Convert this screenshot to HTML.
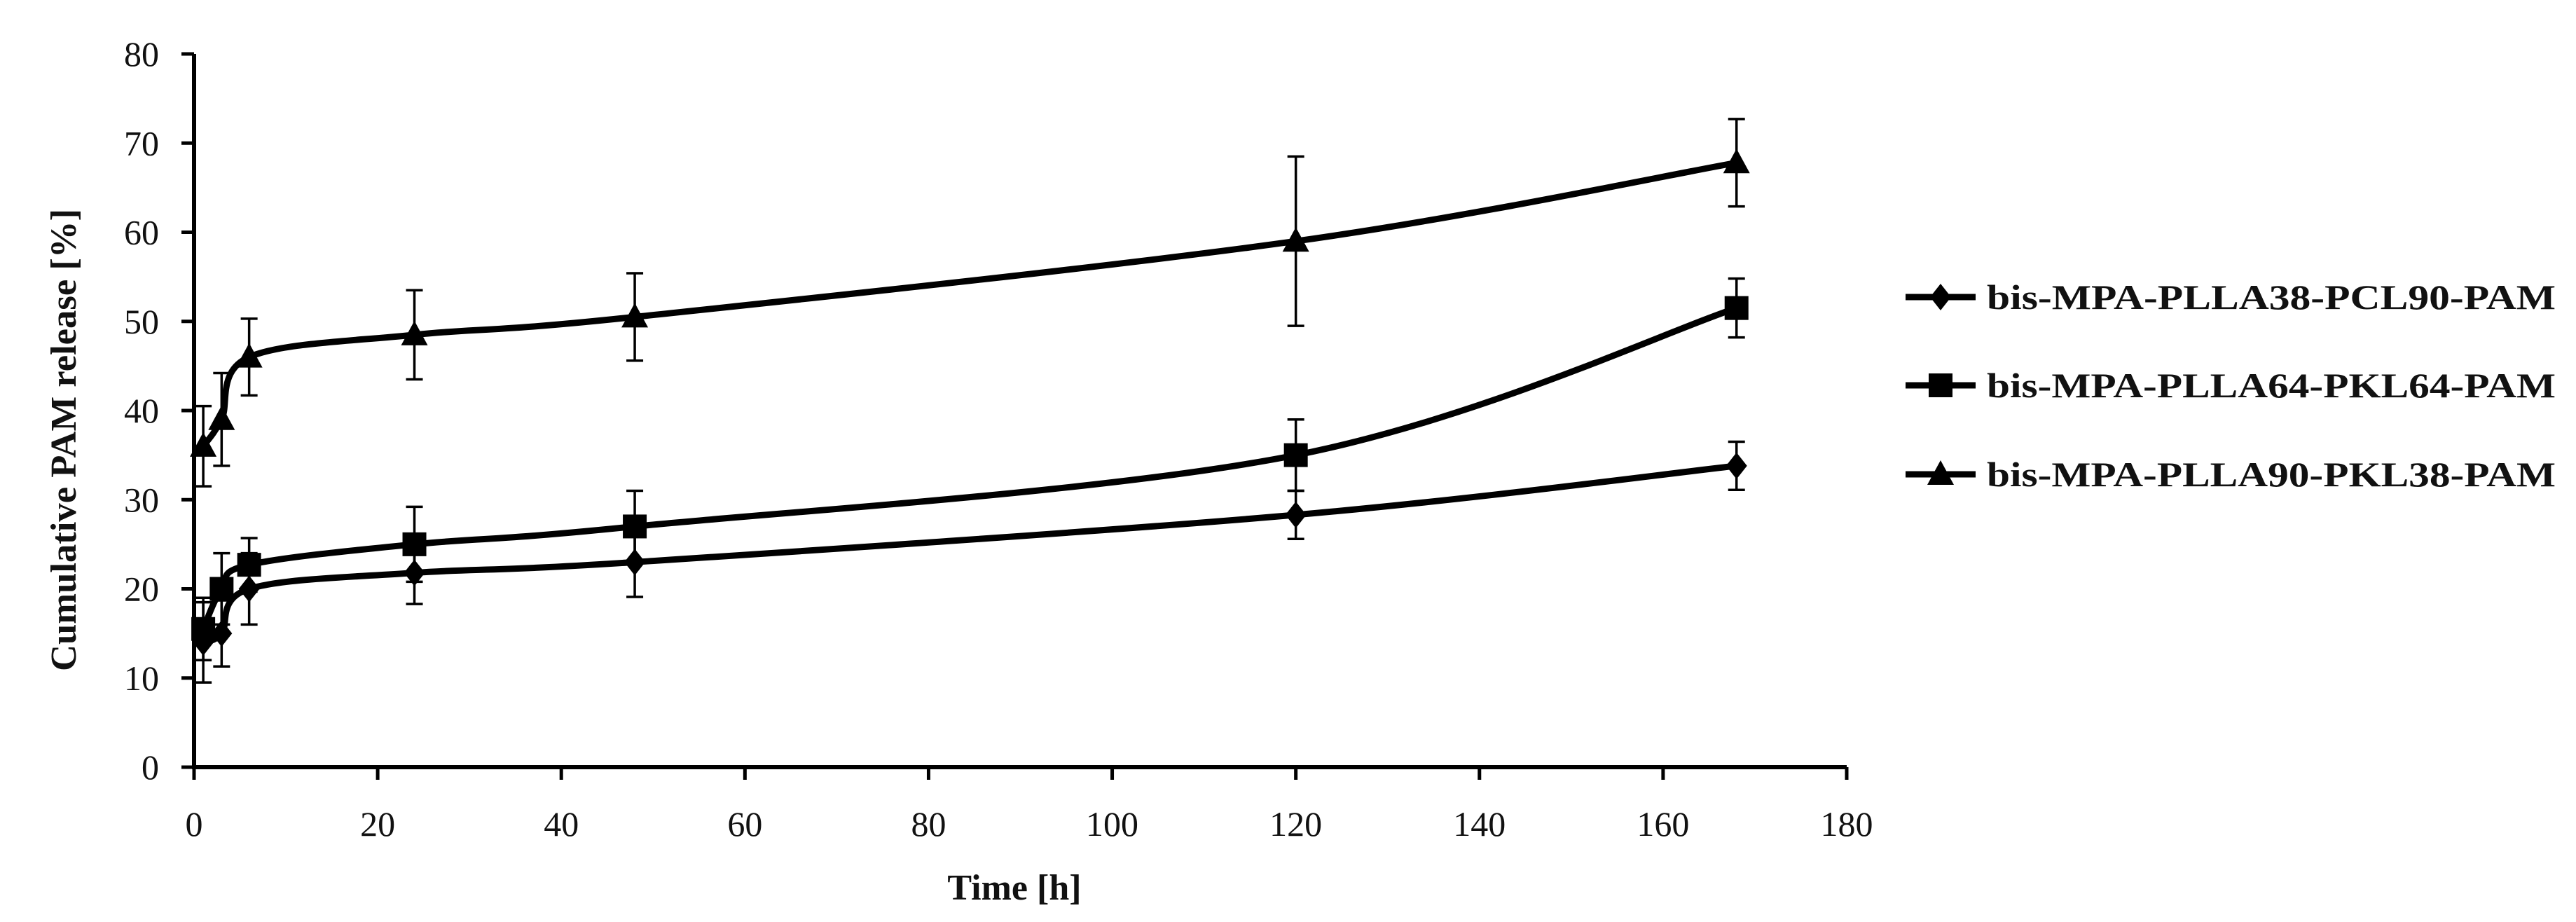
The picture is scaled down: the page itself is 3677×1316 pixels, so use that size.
<!DOCTYPE html>
<html><head><meta charset="utf-8"><style>
html,body{margin:0;padding:0;background:#fff}
svg{display:block}
text{font-family:"Liberation Serif",serif;fill:#111}
</style></head><body>
<svg id="chart" width="3677" height="1316" viewBox="0 0 3677 1316" xmlns="http://www.w3.org/2000/svg">
<g id="axes"></g>
<g id="series"></g>
<g id="legend"></g>
<text transform="translate(108,628) rotate(-90)" text-anchor="middle" font-size="52" font-weight="bold" textLength="660" lengthAdjust="spacingAndGlyphs">Cumulative PAM release [%]</text>
<text x="1448" y="1284" text-anchor="middle" font-size="52" font-weight="bold">Time [h]</text>
</svg>
<script>
const times = [1, 3, 6, 24, 48, 120, 168];
const seriesNames = ["bis-MPA-PLLA38-PCL90-PAM","bis-MPA-PLLA64-PKL64-PAM","bis-MPA-PLLA90-PKL38-PAM"];
const diamondVals = [14, 15, 20, 21.8, 23, 28.3, 33.8];
const diamondErr = [4.5, 3.7, 4, 3.5, 3.9, 2.7, 2.7];
const squareVals = [15.5, 20, 22.7, 25, 27, 35, 51.5];
const squareErr = [3.5, 4, 3, 4.2, 4, 4, 3.3];
const triangleVals = [36, 39, 46, 48.5, 50.5, 59, 67.8];
const triangleErr = [4.5, 5.2, 4.3, 5, 4.9, 9.5, 4.9];
const xTicks = [0,20,40,60,80,100,120,140,160,180];
const yTicks = [0,10,20,30,40,50,60,70,80];

const NS="http://www.w3.org/2000/svg";
const X0=277, X1=2636, Y0=1095, Y1=77;
const xs=v=>X0+(v-0)/180*(X1-X0);
const ys=v=>Y0-(v-0)/80*(Y0-Y1);
function mk(tag,attrs,parent){const e=document.createElementNS(NS,tag);for(const k in attrs)e.setAttribute(k,attrs[k]);parent.appendChild(e);return e;}
const axes=document.getElementById('axes');
let a=mk('line',{x1:X0,y1:Y0,x2:X0,y2:Y1,stroke:'#000','stroke-width':6},axes);


a=mk('line',{x1:X0-3,y1:Y0,x2:X1,y2:Y0,stroke:'#000','stroke-width':6},axes);


yTicks.forEach(v=>{
 const t=mk('line',{x1:X0-18,y1:ys(v),x2:X0,y2:ys(v),stroke:'#000','stroke-width':5},axes);
 
 
 const l=mk('text',{x:X0-50,y:ys(v)+17,'text-anchor':'end','font-size':50},axes);
 l.textContent=v;
 
 
});
xTicks.forEach(v=>{
 const t=mk('line',{x1:xs(v),y1:Y0,x2:xs(v),y2:Y0+18,stroke:'#000','stroke-width':5},axes);
 
 
 const l=mk('text',{x:xs(v),y:Y0+98,'text-anchor':'middle','font-size':50},axes);
 l.textContent=v;
 
 
});
function smoothPath(pts){
 let d=`M${pts[0][0]},${pts[0][1]}`;
 for(let i=0;i<pts.length-1;i++){
  const p0=pts[i-1]||pts[i],p1=pts[i],p2=pts[i+1],p3=pts[i+2]||p2;
  const t=0.5/3;
  const c1=[p1[0]+(p2[0]-p0[0])*t,p1[1]+(p2[1]-p0[1])*t];
  const c2=[p2[0]-(p3[0]-p1[0])*t,p2[1]-(p3[1]-p1[1])*t];
  d+=` C${c1[0]},${c1[1]} ${c2[0]},${c2[1]} ${p2[0]},${p2[1]}`;
 }
 return d;
}
function marker(type,x,y,parent){
 let m;
 if(type==='diamond') m=mk('polygon',{points:`${x},${y-19} ${x+15},${y} ${x},${y+19} ${x-15},${y}`,fill:'#000'},parent);
 else if(type==='square') m=mk('rect',{x:x-17,y:y-17,width:34,height:34,fill:'#000'},parent);
 else m=mk('polygon',{points:`${x},${y-20} ${x+19},${y+15} ${x-19},${y+15}`,fill:'#000'},parent);
 return m;
}
const sg=document.getElementById('series');
const all=[[diamondVals,diamondErr,'diamond'],[squareVals,squareErr,'square'],[triangleVals,triangleErr,'triangle']];
all.forEach(([vals,errs,type],si)=>{
 const g=mk('g',{},sg);
 
 
 vals.forEach((v,i)=>{
  const x=xs(times[i]),yt=ys(v+errs[i]),yb=ys(v-errs[i]);
  const e=mk('path',{d:`M${x},${yt}V${yb}M${x-12},${yt}H${x+12}M${x-12},${yb}H${x+12}`,stroke:'#000','stroke-width':3.5,fill:'none'},g);
  
  
 });
 const p=mk('path',{d:smoothPath(vals.map((v,i)=>[xs(times[i]),ys(v)])),stroke:'#000','stroke-width':9,fill:'none','stroke-linejoin':'round'},g);
 
 
 vals.forEach((v,i)=>{
  const m=marker(type,xs(times[i]),ys(v),g);
  
  
 });
});
const lg=document.getElementById('legend');
const legY=[424,550,677];
all.forEach(([v,e,type],i)=>{
 const g=mk('g',{},lg);
 
 
 mk('line',{x1:2720,y1:legY[i],x2:2820,y2:legY[i],stroke:'#000','stroke-width':9},g);
 marker(type,2770,legY[i],g);
 const t=mk('text',{x:2836,y:legY[i]+17,'font-size':50,'font-weight':'bold',textLength:812,lengthAdjust:'spacingAndGlyphs'},g);
 t.textContent=seriesNames[i];
});
</script>
</body></html>
